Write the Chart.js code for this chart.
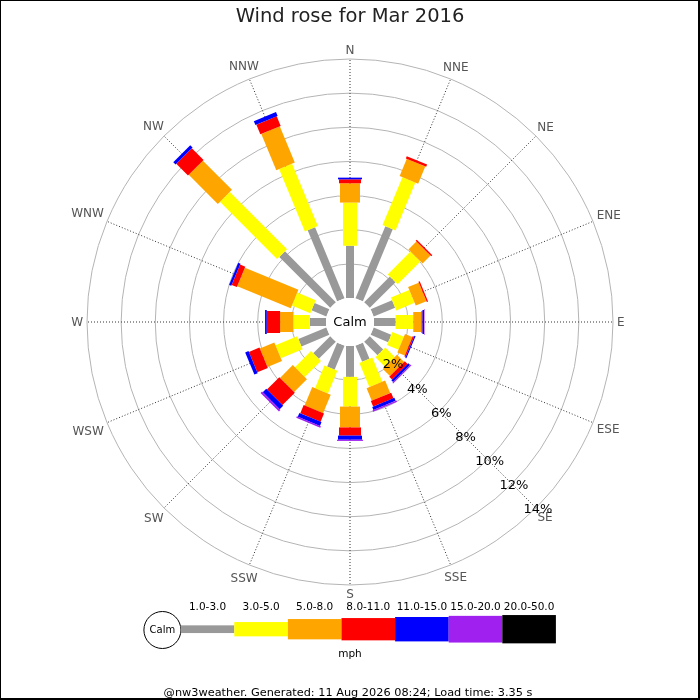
<!DOCTYPE html>
<html>
<head>
<meta charset="utf-8">
<title>Wind rose for Mar 2016</title>
<script src="https://cdn.jsdelivr.net/npm/chart.js@4.4.1/dist/chart.umd.min.js"></script>
<style>
  html, body { margin: 0; padding: 0; background: #fff; }
  canvas { display: block; }
</style>
</head>
<body>
<canvas id="rose" width="700" height="700"></canvas>
<script>
// directions, clockwise from north
var directions = ['N', 'NNE', 'NE', 'ENE', 'E', 'ESE', 'SE', 'SSE', 'S', 'SSW', 'SW', 'WSW', 'W', 'WNW', 'NW', 'NNW'];

// speed bands (mph)
var bands = ['1.0-3.0', '3.0-5.0', '5.0-8.0', '8.0-11.0', '11.0-15.0', '15.0-20.0', '20.0-50.0'];

// % of the month per direction, one list per band
var band1to3   = [3.06, 4.57, 2.13, 1.36, 1.27, 1.11, 1.11, 1.02, 1.81, 1.52, 1.41, 1.77, 0.94, 0.94, 4.22, 4.51];
var band3to5   = [2.53, 3.04, 1.89, 1.16, 1.03, 0.73, 0.79, 1.53, 1.74, 1.44, 1.34, 1.38, 0.97, 1.17, 4.74, 3.95];
var band5to8   = [1.13, 1.09, 0.66, 0.68, 0.48, 0.47, 0.59, 0.79, 1.22, 1.17, 1.06, 0.92, 0.78, 3.39, 2.41, 2.30];
var band8to11  = [0.23, 0.14, 0.09, 0.08, 0.06, 0.08, 0.23, 0.35, 0.48, 0.52, 1.02, 0.67, 0.78, 0.33, 0.97, 0.61];
var band11to15 = [0.10, 0, 0, 0, 0.09, 0.07, 0.15, 0.19, 0.24, 0.24, 0.29, 0.21, 0.10, 0.14, 0.19, 0.25];
var band15to20 = [0, 0, 0, 0, 0.03, 0, 0.06, 0.09, 0.07, 0.09, 0.12, 0, 0, 0, 0, 0];
var band20to50 = [0, 0, 0, 0, 0, 0, 0, 0, 0, 0, 0, 0, 0, 0, 0, 0];

// ring ticks (%)
var rings = [0, 2, 4, 6, 8, 10, 12, 14];

var series = [band1to3, band3to5, band5to8, band8to11, band11to15, band15to20, band20to50];

// styles
var colors = ['#999999', '#ffff00', '#ffa500', '#ff0000', '#0000ff', '#a020f0', '#000000'];
var barWidths = [8, 14, 20, 22, 24, 26, 28];
var legendHeights = [7.7, 14.3, 20.3, 22.3, 24.4, 26.7, 28.3];
var CALM_MIN = -1.405;   // leaves room for the calm circle
var FONT = 'DejaVu Sans';

Chart.defaults.font.family = FONT;

var rosePlugin = {
  id: 'rose',
  afterDatasetsDraw: function(chart) {
    var ctx = chart.ctx;
    var s = chart.scales.r;
    var outer = s.getDistanceFromCenterForValue(s.max);

    // compass labels, centred on each spoke
    ctx.save();
    ctx.font = '12px ' + FONT;
    ctx.fillStyle = '#555';
    ctx.textAlign = 'center';
    ctx.textBaseline = 'middle';
    directions.forEach(function(d, i) {
      var a = s.getIndexAngle(i);
      var w = ctx.measureText(d).width;
      var dist = outer + 4 + (w / 2) * Math.abs(Math.sin(a)) + 5 * Math.abs(Math.cos(a));
      var p = s.getPointPosition(i, dist);
      ctx.fillText(d, p.x, p.y + 1);
    });
    ctx.restore();

    // stacked bars
    directions.forEach(function(d, i) {
      var angle = s.getIndexAngle(i);
      var cum = 0;
      ctx.save();
      ctx.translate(s.xCenter, s.yCenter);
      ctx.rotate(angle);
      series.forEach(function(vals, k) {
        var v = vals[i];
        if (!v) return;
        var r0 = s.getDistanceFromCenterForValue(cum);
        cum += v;
        var r1 = s.getDistanceFromCenterForValue(cum);
        ctx.fillStyle = colors[k];
        ctx.fillRect(-barWidths[k] / 2, -r1, barWidths[k], r1 - r0);
      });
      ctx.restore();
    });

    // calm circle
    var rc = s.getDistanceFromCenterForValue(0);
    ctx.save();
    ctx.beginPath();
    ctx.arc(s.xCenter, s.yCenter, rc, 0, Math.PI * 2);
    ctx.fillStyle = '#fff';
    ctx.fill();
    ctx.fillStyle = '#000';
    ctx.font = '13px ' + FONT;
    ctx.textAlign = 'center';
    ctx.textBaseline = 'middle';
    ctx.fillText('Calm', s.xCenter, s.yCenter + 1);

    // ring labels along SE
    var se = directions.indexOf('SE');
    rings.forEach(function(v) {
      if (v === 0) return;
      var p = s.getPointPosition(se, s.getDistanceFromCenterForValue(v));
      ctx.fillText(v + '%', p.x + 2, p.y + 2);
    });
    ctx.restore();
  },
  afterDraw: function(chart) {
    var ctx = chart.ctx;
    ctx.save();
    // speed legend
    var x0 = 180.7, w = 53.6, cy = 629.2;
    ctx.beginPath();
    ctx.arc(162.4, 630, 18.5, 0, Math.PI * 2);
    ctx.strokeStyle = '#000';
    ctx.lineWidth = 1;
    ctx.stroke();
    ctx.fillStyle = '#000';
    ctx.textAlign = 'center';
    ctx.textBaseline = 'middle';
    ctx.font = '10px ' + FONT;
    ctx.fillText('Calm', 162.4, 630.5);
    bands.forEach(function(b, k) {
      var h = legendHeights[k];
      ctx.fillStyle = colors[k];
      ctx.fillRect(x0 + k * w, cy - h / 2, w, h);
      ctx.fillStyle = '#000';
      ctx.font = '10.5px ' + FONT;
      ctx.fillText(b, x0 + k * w + w / 2, 607);
    });
    ctx.fillText('mph', 350, 654);
    ctx.font = '11.3px ' + FONT;
    ctx.fillText('@nw3weather. Generated: 11 Aug 2026 08:24; Load time: 3.35 s', 348, 693);
    // frame
    ctx.fillStyle = '#000';
    ctx.fillRect(0, 0, 700, 1);
    ctx.fillRect(0, 0, 1, 700);
    ctx.fillRect(698, 0, 2, 700);
    ctx.fillRect(0, 698, 700, 2);
    ctx.restore();
  }
};

new Chart(document.getElementById('rose').getContext('2d'), {
  type: 'radar',
  data: {
    labels: directions,
    datasets: series.map(function(vals, k) {
      return {
        label: bands[k],
        data: vals,
        showLine: false,
        pointRadius: 0,
        pointHoverRadius: 0,
        borderWidth: 0,
        fill: false,
        backgroundColor: colors[k]
      };
    })
  },
  options: {
    responsive: false,
    animation: false,
    layout: { padding: { top: 0, right: 0, bottom: 115, left: 0 } },
    plugins: {
      legend: { display: false },
      tooltip: { enabled: false },
      title: {
        display: true,
        text: 'Wind rose for Mar 2016',
        color: '#222',
        font: { family: FONT, size: 19.5, weight: 'normal' },
        padding: { top: 5.1, bottom: 30.5 }
      }
    },
    scales: {
      r: {
        min: CALM_MIN,
        max: 14,
        startAngle: 0,
        ticks: { display: false },
        afterBuildTicks: function(scale) {
          scale.ticks = [CALM_MIN].concat(rings).map(function(v) { return { value: v }; });
        },
        grid: {
          circular: true,
          lineWidth: 1,
          color: function(c) { return c.tick && c.tick.value > 0 ? '#b4b4b4' : 'rgba(0,0,0,0)'; }
        },
        angleLines: { color: '#333', lineWidth: 1, borderDash: [1, 2] },
        pointLabels: { display: false }
      }
    }
  },
  plugins: [rosePlugin]
});
</script>
</body>
</html>
